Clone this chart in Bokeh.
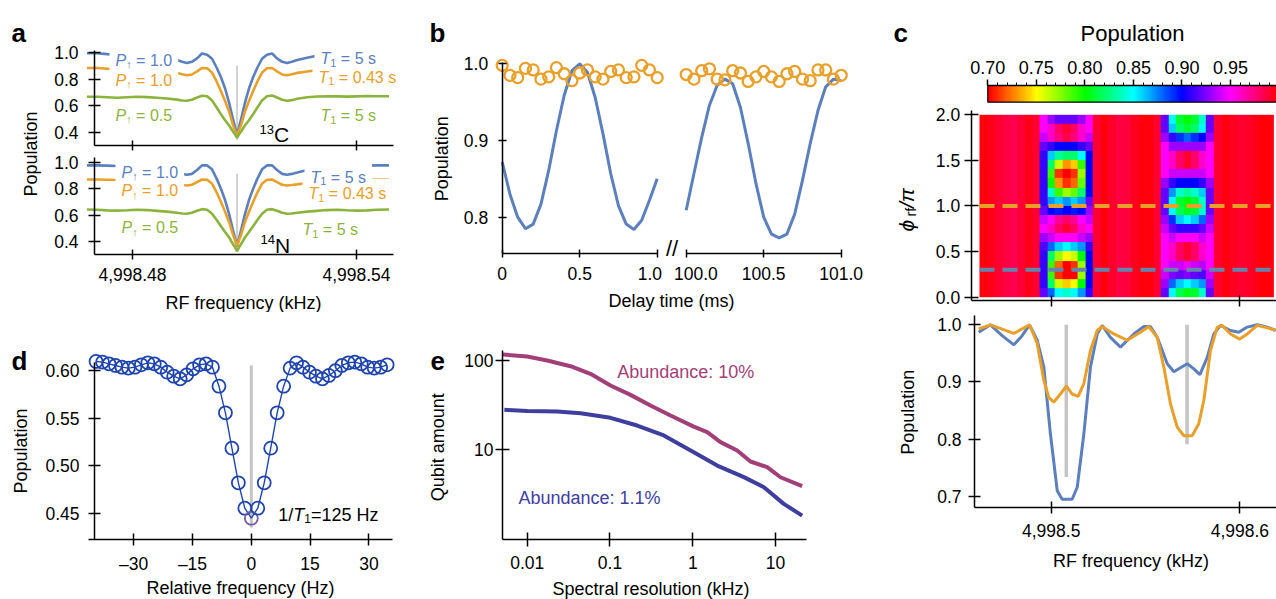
import math
import colorsys
import numpy as np
from bokeh.plotting import figure
from bokeh.layouts import row, column
from bokeh.models import (Range1d, FixedTicker, Label, LinearColorMapper, LinearAxis, BoxAnnotation,
                          CustomJSTickFormatter, NumeralTickFormatter, PrintfTickFormatter)
from bokeh.embed import file_html
from bokeh.resources import INLINE

# ======================= DATA =======================
# ---- panel a : RF spectra (kHz) ----
a_freq = [4998.4678, 4998.4705, 4998.4732, 4998.4759, 4998.4785, 4998.4812, 4998.4839, 4998.4866,
          4998.4892, 4998.4919, 4998.4933, 4998.4946, 4998.4959, 4998.4973, 4998.4986, 4998.5000,
          4998.5013, 4998.5026, 4998.5037, 4998.5048, 4998.5059, 4998.5069, 4998.5075, 4998.5080,
          4998.5085, 4998.5091, 4998.5101, 4998.5112, 4998.5123, 4998.5134, 4998.5147, 4998.5160,
          4998.5174, 4998.5187, 4998.5201, 4998.5214, 4998.5227, 4998.5241, 4998.5268, 4998.5294,
          4998.5321, 4998.5348, 4998.5375, 4998.5401, 4998.5428, 4998.5455, 4998.5487]
a13c_blue = [0.997, 0.997, 0.99, 0.985, 0.99, 0.995, 0.99, 0.978, 0.962, 0.945, 0.932, 0.922, 0.932,
             0.958, 0.995, 0.985, 0.955, 0.885, 0.815, 0.73, 0.62, 0.50, 0.435, 0.375,
             0.435, 0.50, 0.62, 0.73, 0.815, 0.885, 0.955, 0.985, 0.995, 0.958, 0.932, 0.922, 0.932,
             0.945, 0.962, 0.978, 0.99, 0.995, 0.99, 0.985, 0.99, 0.997, 0.997]
a13c_orange = [0.885, 0.885, 0.88, 0.875, 0.88, 0.885, 0.88, 0.87, 0.858, 0.848, 0.838, 0.83, 0.836,
               0.86, 0.885, 0.883, 0.85, 0.78, 0.71, 0.635, 0.555, 0.455, 0.41, 0.37,
               0.41, 0.455, 0.555, 0.635, 0.71, 0.78, 0.85, 0.883, 0.885, 0.86, 0.836, 0.83, 0.838,
               0.848, 0.858, 0.87, 0.88, 0.885, 0.88, 0.875, 0.88, 0.885, 0.885]
a13c_green = [0.668, 0.668, 0.664, 0.66, 0.664, 0.668, 0.665, 0.66, 0.655, 0.646, 0.64, 0.638, 0.645,
              0.662, 0.675, 0.672, 0.64, 0.585, 0.535, 0.49, 0.45, 0.405, 0.382, 0.358,
              0.382, 0.405, 0.45, 0.49, 0.535, 0.585, 0.64, 0.672, 0.677, 0.662, 0.645, 0.638, 0.642,
              0.652, 0.664, 0.67, 0.672, 0.671, 0.669, 0.671, 0.673, 0.672, 0.672]
a14n_blue = [0.98, 0.98, 0.978, 0.975, 0.975, 0.978, 0.975, 0.965, 0.945, 0.925, 0.915, 0.908, 0.915,
             0.945, 0.98, 0.98, 0.95, 0.875, 0.80, 0.715, 0.605, 0.485, 0.42, 0.36,
             0.42, 0.485, 0.605, 0.715, 0.80, 0.875, 0.95, 0.98, 0.98, 0.945, 0.915, 0.908, 0.915,
             0.925, 0.945, 0.965, 0.975, 0.978, 0.975, 0.975, 0.978, 0.98, 0.98]
a14n_orange = [0.872, 0.872, 0.87, 0.868, 0.87, 0.872, 0.868, 0.858, 0.845, 0.835, 0.83, 0.826, 0.832,
               0.852, 0.872, 0.87, 0.84, 0.77, 0.70, 0.625, 0.545, 0.45, 0.405, 0.365,
               0.405, 0.45, 0.545, 0.625, 0.70, 0.77, 0.84, 0.87, 0.872, 0.852, 0.832, 0.826, 0.83,
               0.835, 0.845, 0.858, 0.868, 0.872, 0.87, 0.868, 0.87, 0.872, 0.872]
a14n_green = [0.642, 0.64, 0.636, 0.634, 0.637, 0.641, 0.638, 0.632, 0.626, 0.617, 0.612, 0.61, 0.617,
              0.633, 0.645, 0.64, 0.61, 0.56, 0.515, 0.47, 0.428, 0.378, 0.35, 0.323,
              0.35, 0.378, 0.428, 0.47, 0.515, 0.56, 0.61, 0.64, 0.645, 0.633, 0.617, 0.61, 0.612,
              0.617, 0.626, 0.632, 0.638, 0.641, 0.637, 0.634, 0.636, 0.64, 0.642]
a_marker_freq = 4998.508
a13c_marker = (0.34, 0.904)
a14n_marker = (0.32, 0.916)
a_freq_ticks = [4998.48, 4998.54]
a_pop_ticks = [0.4, 0.6, 0.8, 1.0]

# ---- panel b : oscillations vs delay time (ms) ----
b_time_1 = [0.0, 0.05, 0.10, 0.15, 0.20, 0.25, 0.30, 0.35, 0.40, 0.45, 0.50, 0.55, 0.60, 0.65, 0.70,
            0.75, 0.80, 0.85, 0.90, 0.95, 1.00]
b_line_1 = [0.872, 0.830, 0.800, 0.785, 0.791, 0.817, 0.861, 0.913, 0.959, 0.991, 1.0, 0.989, 0.956,
            0.909, 0.857, 0.815, 0.791, 0.784, 0.796, 0.822, 0.850]
b_dots_1 = [0.998, 0.985, 0.982, 0.994, 0.992, 0.980, 0.983, 0.995, 0.987, 0.978, 0.988, 0.992, 0.983,
            0.980, 0.990, 0.992, 0.982, 0.983, 0.998, 0.992, 0.982]
b_time_2 = [100.0, 100.05, 100.10, 100.15, 100.20, 100.25, 100.30, 100.35, 100.40, 100.45, 100.50,
            100.55, 100.60, 100.65, 100.70, 100.75, 100.80, 100.85, 100.90, 100.95, 101.0]
b_line_2 = [0.809, 0.857, 0.904, 0.946, 0.972, 0.980, 0.974, 0.943, 0.896, 0.844, 0.800, 0.778, 0.773,
            0.778, 0.804, 0.848, 0.896, 0.939, 0.970, 0.980, 0.978]
b_dots_2 = [0.986, 0.980, 0.991, 0.9935, 0.980, 0.979, 0.991, 0.988, 0.977, 0.983, 0.990, 0.983, 0.977,
            0.987, 0.990, 0.980, 0.978, 0.992, 0.992, 0.980, 0.985]
b_time_ticks_1 = [0.0, 0.5, 1.0]
b_time_ticks_2 = [100.0, 100.5, 101.0]
b_pop_ticks = [0.8, 0.9, 1.0]

# ---- panel c : 2D map (rows: phi_rf/pi, columns: RF frequency) ----
heat_freq = [4998.464, 4998.468, 4998.472, 4998.476, 4998.480, 4998.484, 4998.488, 4998.492, 4998.496,
             4998.500, 4998.504, 4998.508, 4998.512, 4998.516, 4998.520, 4998.524, 4998.528, 4998.532,
             4998.536, 4998.540, 4998.544, 4998.548, 4998.552, 4998.556, 4998.560, 4998.564, 4998.568,
             4998.572, 4998.576, 4998.580, 4998.584, 4998.588, 4998.592, 4998.596, 4998.600, 4998.604,
             4998.608, 4998.612, 4998.616]
heat_phi = [0.05, 0.15, 0.25, 0.35, 0.45, 0.55, 0.65, 0.75, 0.85, 0.95,
            1.05, 1.15, 1.25, 1.35, 1.45, 1.55, 1.65, 1.75, 1.85, 1.95]
heat_background = [0.997, 0.995, 0.99, 0.986, 0.984, 0.989, 0.995,
                   0.997, 0.997, 0.997, 0.997, 0.997, 0.997, 0.997, 0.997, 0.997,
                   0.997, 0.991, 0.986, 0.988, 0.994, 0.997, 0.997,
                   0.997, 0.997, 0.997, 0.997, 0.997, 0.997, 0.997, 0.997, 0.997,
                   0.997, 0.994, 0.99, 0.991, 0.995, 0.998, 0.997]
heat_left_column = [   # columns 4998.492 ... 4998.524, rows from phi = 0.05 upward
    [0.99, 0.92, 0.88, 0.85, 0.84, 0.85, 0.87, 0.91, 0.99],
    [0.99, 0.91, 0.82, 0.76, 0.74, 0.75, 0.80, 0.90, 0.99],
    [0.99, 0.91, 0.79, 0.71, 0.70, 0.70, 0.77, 0.90, 0.99],
    [0.99, 0.91, 0.79, 0.72, 0.70, 0.71, 0.77, 0.90, 0.99],
    [0.99, 0.91, 0.82, 0.77, 0.75, 0.76, 0.80, 0.90, 0.99],
    [0.99, 0.915, 0.88, 0.86, 0.85, 0.86, 0.87, 0.91, 0.99],
    [0.99, 0.93, 0.94, 0.95, 0.95, 0.95, 0.94, 0.93, 0.99],
    [0.99, 0.95, 0.96, 0.98, 0.99, 0.98, 0.96, 0.95, 0.99],
    [0.99, 0.94, 0.95, 0.97, 0.98, 0.97, 0.95, 0.94, 0.99],
    [0.99, 0.92, 0.90, 0.895, 0.90, 0.895, 0.90, 0.93, 0.99],
    [0.99, 0.91, 0.87, 0.86, 0.87, 0.86, 0.87, 0.92, 0.99],
    [0.99, 0.91, 0.84, 0.79, 0.77, 0.78, 0.82, 0.90, 0.99],
    [0.99, 0.91, 0.80, 0.73, 0.71, 0.72, 0.78, 0.90, 0.99],
    [0.99, 0.91, 0.79, 0.71, 0.70, 0.71, 0.77, 0.90, 0.99],
    [0.99, 0.91, 0.82, 0.76, 0.73, 0.74, 0.79, 0.90, 0.99],
    [0.99, 0.91, 0.86, 0.83, 0.82, 0.82, 0.85, 0.90, 0.99],
    [0.99, 0.92, 0.91, 0.90, 0.90, 0.90, 0.91, 0.92, 0.99],
    [0.99, 0.94, 0.96, 0.975, 0.985, 0.975, 0.96, 0.94, 0.99],
    [0.99, 0.95, 0.96, 0.98, 0.99, 0.98, 0.96, 0.95, 0.99],
    [0.99, 0.95, 0.93, 0.92, 0.92, 0.92, 0.93, 0.95, 0.99],
]
heat_right_column = [  # columns 4998.556 ... 4998.588, rows from phi = 0.05 upward
    [0.99, 0.92, 0.85, 0.815, 0.805, 0.81, 0.84, 0.92, 0.99],
    [0.99, 0.93, 0.88, 0.86, 0.85, 0.86, 0.87, 0.93, 0.99],
    [0.99, 0.94, 0.925, 0.92, 0.925, 0.92, 0.915, 0.94, 0.99],
    [0.99, 0.95, 0.94, 0.94, 0.945, 0.94, 0.935, 0.95, 0.99],
    [0.99, 0.95, 0.96, 0.98, 0.99, 0.98, 0.96, 0.95, 0.99],
    [0.99, 0.95, 0.96, 0.98, 0.99, 0.98, 0.96, 0.95, 0.99],
    [0.99, 0.95, 0.94, 0.95, 0.95, 0.95, 0.94, 0.95, 0.99],
    [0.99, 0.94, 0.92, 0.91, 0.91, 0.91, 0.92, 0.94, 0.99],
    [0.99, 0.93, 0.89, 0.86, 0.85, 0.86, 0.88, 0.93, 0.99],
    [0.99, 0.92, 0.85, 0.815, 0.805, 0.81, 0.84, 0.92, 0.99],
    [0.99, 0.92, 0.85, 0.81, 0.80, 0.81, 0.84, 0.92, 0.99],
    [0.99, 0.92, 0.87, 0.84, 0.83, 0.84, 0.86, 0.92, 0.99],
    [0.99, 0.93, 0.91, 0.90, 0.90, 0.90, 0.91, 0.93, 0.99],
    [0.99, 0.95, 0.94, 0.94, 0.94, 0.94, 0.94, 0.95, 0.99],
    [0.99, 0.95, 0.96, 0.98, 0.99, 0.98, 0.96, 0.95, 0.99],
    [0.99, 0.95, 0.96, 0.98, 0.99, 0.98, 0.96, 0.95, 0.99],
    [0.99, 0.95, 0.93, 0.93, 0.93, 0.93, 0.93, 0.95, 0.99],
    [0.99, 0.93, 0.91, 0.89, 0.88, 0.89, 0.90, 0.93, 0.99],
    [0.99, 0.92, 0.86, 0.82, 0.81, 0.82, 0.85, 0.92, 0.99],
    [0.99, 0.92, 0.85, 0.81, 0.80, 0.81, 0.84, 0.92, 0.99],
]
heat_cut_phi = [0.3, 1.0]
heat_phi_ticks = [0.0, 0.5, 1.0, 1.5, 2.0]
colorbar_low, colorbar_high = 0.70, 1.0
colorbar_ticks = [0.70, 0.75, 0.80, 0.85, 0.90, 0.95]
colorbar_minor = [0.70, 0.71, 0.72, 0.73, 0.74, 0.75, 0.76, 0.77, 0.78, 0.79, 0.80, 0.81, 0.82, 0.83,
                  0.84, 0.85, 0.86, 0.87, 0.88, 0.89, 0.90, 0.91, 0.92, 0.93, 0.94, 0.95, 0.96, 0.97,
                  0.98, 0.99]

# ---- panel c (bottom) : cuts at phi = 0.3 pi (blue) and 1.0 pi (orange) ----
c_freq_blue = [4998.4616, 4998.4678, 4998.4740, 4998.4802, 4998.4846, 4998.4885, 4998.4926, 4998.4961,
               4998.4996, 4998.5032, 4998.5058, 4998.5111, 4998.5138, 4998.5173, 4998.5208, 4998.5244,
               4998.5270, 4998.5314, 4998.5367, 4998.5438, 4998.5491, 4998.5526, 4998.5562, 4998.5615,
               4998.5650, 4998.5685, 4998.5721, 4998.5756, 4998.5788, 4998.5827, 4998.5862, 4998.5897,
               4998.5950, 4998.5994, 4998.6039, 4998.6092, 4998.6145, 4998.6189]
c_pop_blue = [0.987, 1.0, 0.981, 0.965, 0.981, 1.0, 0.973, 0.926, 0.809, 0.710, 0.695, 0.695, 0.716,
              0.809, 0.926, 0.984, 0.999, 0.978, 0.961, 0.984, 0.997, 0.997, 0.978, 0.932, 0.918,
              0.925, 0.932, 0.923, 0.913, 0.943, 0.984, 0.999, 0.990, 0.987, 0.996, 1.0, 0.996, 0.990]
c_freq_orange = [4998.4616, 4998.4678, 4998.4802, 4998.4885, 4998.4926, 4998.4961, 4998.4987, 4998.5014,
                 4998.5049, 4998.5081, 4998.5111, 4998.5143, 4998.5173, 4998.5208, 4998.5244, 4998.5270,
                 4998.5332, 4998.5403, 4998.5473, 4998.5517, 4998.5562, 4998.5597, 4998.5632, 4998.5668,
                 4998.5703, 4998.5747, 4998.5782, 4998.5809, 4998.5844, 4998.5880, 4998.5906, 4998.5950,
                 4998.5999, 4998.6039, 4998.6092, 4998.6189]
c_pop_orange = [0.993, 1.0, 0.985, 1.0, 0.967, 0.903, 0.873, 0.865, 0.879, 0.893, 0.879, 0.875, 0.897,
                0.955, 0.990, 0.997, 0.984, 0.973, 0.987, 0.997, 0.978, 0.926, 0.862, 0.821, 0.806,
                0.806, 0.827, 0.868, 0.955, 0.996, 0.999, 0.984, 0.975, 0.984, 0.999, 0.991]
c_marker_freq = [4998.508, 4998.572]
c_marker_low = [0.734, 0.791]
c_marker_high = [1.0, 1.0]
c_freq_ticks = [4998.5, 4998.6]
c_pop_ticks = [0.7, 0.8, 0.9, 1.0]

# ---- panel d ----
d_freq = [-39.6, -37.95, -36.3, -34.65, -33.0, -31.35, -29.7, -28.05, -26.4, -24.75, -23.1, -21.45,
          -19.8, -18.15, -16.5, -14.85, -13.2, -11.55, -9.9, -8.25, -6.6, -4.95, -3.3, -1.65, 0.0,
          1.65, 3.3, 4.95, 6.6, 8.25, 9.9, 11.55, 13.2, 14.85, 16.5, 18.15, 19.8, 21.45, 23.1, 24.75,
          26.4, 28.05, 29.7, 31.35, 33.0, 34.65]
d_pop = [0.6095, 0.6088, 0.6070, 0.6053, 0.6035, 0.6025, 0.6035, 0.6060, 0.6081, 0.6070, 0.6035, 0.5982,
         0.5940, 0.5912, 0.5954, 0.6018, 0.6060, 0.6070, 0.6035, 0.5835, 0.5555, 0.5183, 0.4819, 0.4552,
         0.4447, 0.4552, 0.4819, 0.5183, 0.5555, 0.5835, 0.6025, 0.6081, 0.6035, 0.5982, 0.5940, 0.5912,
         0.5948, 0.5998, 0.6053, 0.6081, 0.6088, 0.6070, 0.6035, 0.6025, 0.6035, 0.6060]
d_marker = (0.0, 0.435, 0.6053)
d_freq_ticks = [-30, -15, 0, 15, 30]
d_pop_ticks = [0.45, 0.50, 0.55, 0.60]

# ---- panel e ----
e10_res = [0.0051, 0.01, 0.01746, 0.03334, 0.05808, 0.1014, 0.177, 0.3083, 0.5383, 1.028, 1.493,
           2.163, 3.436, 4.977, 7.925, 11.46, 20.94]
e10_qubits = [116.8, 110.9, 100.0, 86.3, 70.8, 52.3, 41.1, 31.2, 24.1, 18.1, 15.7, 12.1, 9.75, 7.33,
              6.33, 4.88, 3.87]
e11_res = [0.0053, 0.01, 0.02301, 0.04406, 0.1014, 0.2128, 0.4467, 1.028, 1.972, 4.14, 7.228, 12.56,
           20.94]
e11_qubits = [27.9, 27.0, 26.7, 25.6, 22.7, 18.6, 14.4, 9.33, 6.6, 4.89, 3.77, 2.45, 1.81]
e_res_ticks = [0.01, 0.1, 1, 10]
e_qubit_ticks = [10, 100]

# ======================= STYLE =======================
FONT = "Liberation Sans"
TICK_FS = "17.5px"
BLUE = "#5b80bd"
ORANGE = "#e8a02a"
GREEN = "#8cb43c"
DBLUE = "#1f45ad"
DPURPLE = "#7a5ca8"
E_PURPLE = "#a23f79"
E_BLUE = "#3e3e9f"
DASH_BLUE = "#6584ad"
GRAY = "#c4c4c4"
NB = "\u00a0"

W = {' ': 0.278, '=': 0.584, '.': 0.278, 's': 0.5, 'P': 0.667, 'T': 0.611, '\u2191': 0.5,
     '/': 0.278, 'H': 0.722, 'z': 0.5, 'C': 0.722, 'N': 0.722, 'r': 0.333, 'f': 0.278,
     '\u03d5': 0.62, '\u03c0': 0.556}


def tw(s, fs):
    return sum(W.get(ch, 0.556) for ch in s) * fs


PENDING = []


def queue(p, lab):
    for entry in PENDING:
        if entry[0] is p:
            entry[1].append(lab)
            return
    PENDING.append((p, [lab]))


def mk(geom, sx, sy, text, size, color="black", style="normal", align="left",
       baseline="alphabetic", angle=0.0):
    x0, y1 = geom
    return Label(x=sx - x0, y=y1 - sy, x_units="screen", y_units="screen", text=text,
                 text_font=FONT, text_font_size=f"{size}px", text_color=color,
                 text_font_style=style, text_align=align, text_baseline=baseline, angle=angle)


def txt(p, geom, sx, sy, text, size, **kw):
    queue(p, mk(geom, sx, sy, text, size, **kw))


def white_box(p, geom, left, right, top, bottom):
    x0, y1 = geom
    p.add_layout(BoxAnnotation(left=left - x0, right=right - x0, top=y1 - top, bottom=y1 - bottom,
                               left_units="screen", right_units="screen", top_units="screen",
                               bottom_units="screen", fill_color="white", fill_alpha=1.0,
                               line_color=None))


def comp(p, geom, left, base, parts, color, bg=False, rext=0.0):
    x = left
    for t, st, fs, dy in parts:
        lead = len(t) - len(t.lstrip(' '))
        x += tw(' ' * lead, fs)
        t2 = t.lstrip(' ')
        queue(p, mk(geom, x, base + dy, t2, fs, color, st))
        x += tw(t2, fs)
    if bg:
        white_box(p, geom, left - 6, max(x + 6, rext), base - 15, base + 5)


def make_fig(w, h, xr, yr, xtype="linear", ytype="linear", xloc="below", yloc="left"):
    p = figure(width=w, height=h, x_range=Range1d(*xr), y_range=Range1d(*yr),
               x_axis_type=xtype, y_axis_type=ytype, x_axis_location=xloc, y_axis_location=yloc,
               toolbar_location=None, output_backend="svg", tools="", min_border=0)
    p.outline_line_color = None
    p.background_fill_color = "white"
    p.border_fill_color = "white"
    for g in p.grid:
        g.visible = False
    return p


def cfg(ax, loc, bounds, ticks, formatter, tin=5, tout=5, standoff=8, fs=TICK_FS):
    ax.axis_line_color = "black"
    ax.axis_line_width = 1.5
    ax.major_tick_line_color = "black"
    ax.major_tick_line_width = 1.5
    ax.major_tick_in = tin
    ax.major_tick_out = tout
    ax.minor_tick_in = 0
    ax.minor_tick_out = 0
    ax.major_label_text_font = FONT
    ax.major_label_text_font_size = fs
    ax.major_label_text_color = "black"
    ax.major_label_standoff = standoff
    ax.axis_label = None
    ax.fixed_location = loc
    ax.bounds = bounds
    ax.ticker = FixedTicker(ticks=ticks)
    ax.formatter = formatter


EMPTY = CustomJSTickFormatter(code="return '';")

# ======================= PANEL a  (page box x 0..428, y 0..312) =======================
G_A = (0, 312)
a = make_fig(428, 312, (4998.444643, 4998.559286), (-0.96297, 1.39531))
a.extra_y_ranges = {"n14": Range1d(-0.14626, 2.24273)}
for (mkr, rng) in ((a13c_marker, "default"), (a14n_marker, "n14")):
    a.segment(x0=[a_marker_freq], y0=[mkr[0]], x1=[a_marker_freq], y1=[mkr[1]],
              line_color=GRAY, line_width=1.5, y_range_name=rng)
for blue, orange, green, rng in ((a13c_blue, a13c_orange, a13c_green, "default"),
                                 (a14n_blue, a14n_orange, a14n_green, "n14")):
    a.line(a_freq, blue, line_color=BLUE, line_width=2.6, y_range_name=rng)
    a.line(a_freq, orange, line_color=ORANGE, line_width=2.6, y_range_name=rng)
    a.line(a_freq, green, line_color=GREEN, line_width=2.6, y_range_name=rng)
ax = a.xaxis[0]
ax.y_range_name = "n14"
cfg(ax, 0.2979, (4998.46982, 4998.54991), a_freq_ticks, NumeralTickFormatter(format="0,0.00"), 5, 5, 9)
ax = LinearAxis()
a.add_layout(ax, "below")
cfg(ax, 0.2993, (4998.46982, 4998.54991), a_freq_ticks, EMPTY, 5, 5, 0)
cfg(a.yaxis[0], 4998.46982, (0.2993, 1.0174), a_pop_ticks, PrintfTickFormatter(format="%.1f"), 6, 6, 10)
ax = LinearAxis(y_range_name="n14")
a.add_layout(ax, "left")
cfg(ax, 4998.46982, (0.2979, 1.0406), a_pop_ticks, PrintfTickFormatter(format="%.1f"), 6, 6, 10)

txt(a, G_A, 11, 32, "a", 26, style="bold")
txt(a, G_A, 30, 153.5, "Population", 18, align="center", baseline="middle", angle=math.pi / 2)
txt(a, G_A, 243, 302, "RF frequency (kHz)", 18, align="center", baseline="middle")
PUP = lambda v: [("P", "italic", 16, 0), ("\u2191", "normal", 11, 4), (" = " + v, "normal", 16, 0)]
T1 = lambda v: [("T", "italic", 16, 0), ("1", "normal", 11, 4), (" = " + v, "normal", 16, 0)]
comp(a, G_A, 115, 59.5, PUP("1.0"), BLUE, bg=True)
comp(a, G_A, 115, 79.5, PUP("1.0"), ORANGE, bg=True)
comp(a, G_A, 115, 114.5, PUP("0.5"), GREEN)
comp(a, G_A, 320, 58.3, T1("5 s"), BLUE, bg=True, rext=395)
comp(a, G_A, 318, 76.7, T1("0.43 s"), ORANGE, bg=True, rext=395)
comp(a, G_A, 320, 115, T1("5 s"), GREEN)
comp(a, G_A, 259, 128.5, [("13", "normal", 13, 0), ("C", "normal", 21, 5.5)], "black")
comp(a, G_A, 121, 171.7, PUP("1.0"), BLUE, bg=True)
comp(a, G_A, 121, 190, PUP("1.0"), ORANGE, bg=True)
comp(a, G_A, 121, 227.3, PUP("0.5"), GREEN)
comp(a, G_A, 310, 176.7, T1("5 s"), BLUE, bg=True)
comp(a, G_A, 308, 193.3, T1("0.43 s"), ORANGE, bg=True)
comp(a, G_A, 302, 229, T1("5 s"), GREEN)
comp(a, G_A, 260, 238.5, [("14", "normal", 13, 0), ("N", "normal", 21, 6.5)], "black")

# ======================= PANEL d  (page box x 0..428, y 312..599) =======================
G_D = (0, 599)
d = make_fig(428, 287, (-63.980, 45.204), (0.35920, 0.66099))
d.segment(x0=[d_marker[0]], y0=[d_marker[1]], x1=[d_marker[0]], y1=[d_marker[2]],
          line_color=GRAY, line_width=3)
d.line(d_freq, d_pop, line_color=DBLUE, line_width=1.4)
d_colors = [DPURPLE if f == 0.0 else DBLUE for f in d_freq]
d.scatter(d_freq, d_pop, marker="circle", size=13, fill_color=None, line_color=d_colors, line_width=1.8)
cfg(d.xaxis[0], 0.4223, (-41.53, 36.02), d_freq_ticks,
    CustomJSTickFormatter(code="return tick < 0 ? '\u2013' + (-tick) : String(tick);"), 6, 6, 9)
cfg(d.yaxis[0], -40.0, (0.4223, 0.6087), d_pop_ticks, PrintfTickFormatter(format="%.2f"), 6, 6, 9)
txt(d, G_D, 11, 360, "d", 26, style="bold")
txt(d, G_D, 20.5, 450.5, "Population", 18, align="center", baseline="middle", angle=math.pi / 2)
txt(d, G_D, 240, 587, "Relative frequency (Hz)", 18, align="center", baseline="middle")
comp(d, G_D, 277.7, 514.3, [("1/", "normal", 18, 0), ("T", "italic", 18, 0), ("1", "normal", 12, 4),
                             ("=125 Hz", "normal", 18, 0)], "black")

# ======================= PANEL b  (page box x 428..880, y 0..312) =======================
G_B = (428, 312)
b = make_fig(452, 312, (-0.47548, 2.44065), (0.67575, 1.08253))
b.extra_x_ranges = {"late": Range1d(98.33742, 101.25355)}
b.line(b_time_1, b_line_1, line_color=BLUE, line_width=3)
b.line(b_time_2, b_line_2, line_color=BLUE, line_width=3, x_range_name="late")
b.scatter(b_time_1, b_dots_1, marker="circle", size=11, fill_color=None, line_color=ORANGE, line_width=2.3)
b.scatter(b_time_2, b_dots_2, marker="circle", size=11, fill_color=None, line_color=ORANGE,
          line_width=2.3, x_range_name="late")
cfg(b.xaxis[0], 0.7527, (0.0, 1.0), b_time_ticks_1, CustomJSTickFormatter(
    code="return tick == 0 ? '0' : (Math.abs(tick - 1) < 1e-9 ? '1.0" + NB * 3 + "' : tick.toFixed(1));"),
    4, 4, 7)
ax = LinearAxis(x_range_name="late")
b.add_layout(ax, "below")
cfg(ax, 0.7527, (100.0, 101.0), b_time_ticks_2, CustomJSTickFormatter(
    code="return Math.abs(tick - 100) < 1e-9 ? '" + NB * 4 + "100.0' : tick.toFixed(1);"), 4, 4, 7)
cfg(b.yaxis[0], 0.0, (0.7527, 1.0017), b_pop_ticks, PrintfTickFormatter(format="%.1f"), 4, 4, 10)
txt(b, G_B, 429, 32, "b", 26, style="bold")
txt(b, G_B, 441.7, 158.3, "Population", 18, align="center", baseline="middle", angle=math.pi / 2)
txt(b, G_B, 671, 300, "Delay time (ms)", 18, align="center", baseline="middle")
txt(b, G_B, 671.5, 248, "//", 22, align="center", baseline="middle")

# ======================= PANEL e  (page box x 428..880, y 312..599) =======================
G_E = (428, 599)
e = make_fig(452, 287, (0.00064269, 184.93), (0.20637, 346.24), xtype="log", ytype="log")
e.line(e10_res, e10_qubits, line_color=E_PURPLE, line_width=4)
e.line(e11_res, e11_qubits, line_color=E_BLUE, line_width=4)
STR = CustomJSTickFormatter(code="return String(tick);")
cfg(e.xaxis[0], 0.9745, (0.00503, 23.68), e_res_ticks, STR, 7, 7, 9)
cfg(e.yaxis[0], 0.00503, (0.9745, 129.5), e_qubit_ticks, STR, 7, 7, 2)
txt(e, G_E, 430, 360, "e", 26, style="bold")
txt(e, G_E, 437.5, 446.7, "Qubit amount", 18, align="center", baseline="middle", angle=math.pi / 2)
txt(e, G_E, 650.5, 588, "Spectral resolution (kHz)", 18, align="center", baseline="middle")
e.add_layout(Label(x=0.1222, y=73.9, text="Abundance: 10%", text_font=FONT, text_font_size="18px",
                   text_color=E_PURPLE, text_baseline="middle"))
e.add_layout(Label(x=0.00785, y=2.836, text="Abundance: 1.1%", text_font=FONT, text_font_size="18px",
                   text_color=E_BLUE, text_baseline="middle"))

# ======================= PANEL c =======================
hsv_palette = []
for i in range(256):
    r, g, bb = colorsys.hsv_to_rgb(i / 255.0, 1.0, 1.0)
    hsv_palette.append("#%02x%02x%02x" % (int(round(r * 255)), int(round(g * 255)), int(round(bb * 255))))
mapper = LinearColorMapper(palette=hsv_palette, low=colorbar_low, high=colorbar_high)

# colour bar (page box x 880..1276, y 0..106)
G_CB = (880, 106)
cbar = make_fig(396, 106, (0.58947, 0.99738), (-0.2575, 6.0898), xloc="above", yloc=None)
colorbar_levels = np.linspace(colorbar_low, colorbar_high, 301)
cbar.image(image=[np.array([colorbar_levels])], x=colorbar_low, y=0, dw=colorbar_high - colorbar_low,
           dh=1, color_mapper=mapper)
cbar.quad(left=[colorbar_low], right=[colorbar_high], bottom=[0], top=[1], fill_color=None,
          line_color="black", line_width=1.2)
ax = cbar.xaxis[0]
cfg(ax, 1.0, (colorbar_low, colorbar_high), colorbar_ticks, PrintfTickFormatter(format="%.2f"),
    0, 6, 5, fs="18px")
ax.ticker = FixedTicker(ticks=colorbar_ticks, minor_ticks=colorbar_minor)
ax.minor_tick_out = 3
ax.minor_tick_line_color = "black"
ax.minor_tick_line_width = 1
txt(cbar, G_CB, 893, 32, "c", 26, style="bold")
txt(cbar, G_CB, 1132, 33.3, "Population", 22, align="center", baseline="middle")

# map (page box x 880..1276, y 106..309)
G_CH = (880, 309)
heat = make_fig(396, 203, (4998.40954, 4998.61940), (-0.13489, 2.09101))
heat_rows = []
for r_i in range(len(heat_phi)):
    row_vals = list(heat_background)
    row_vals[7:16] = heat_left_column[r_i]
    row_vals[23:32] = heat_right_column[r_i]
    heat_rows.append(row_vals)
heat_grid = np.array(heat_rows)
step = heat_freq[1] - heat_freq[0]
heat_x0 = heat_freq[0] - step / 2
heat_x1 = heat_freq[-1] + step / 2
heat.image(image=[heat_grid], x=heat_x0, y=0, dw=heat_x1 - heat_x0, dh=2.0, color_mapper=mapper)
heat.segment(x0=[heat_x0, heat_x0], y0=heat_cut_phi, x1=[heat_x1, heat_x1], y1=heat_cut_phi,
             line_color=[DASH_BLUE, ORANGE], line_width=4, line_dash="15 8")
cfg(heat.xaxis[0], -0.036, (4998.4576, 4998.6194), c_freq_ticks, EMPTY, 5, 6, 0)
cfg(heat.yaxis[0], 4998.4576, (-0.036, 2.047), heat_phi_ticks, PrintfTickFormatter(format="%.1f"), 7, 7, 4)
queue(heat, mk(G_CH, 906, 231, "\u03d5", 21, style="italic", baseline="middle", angle=math.pi / 2))
queue(heat, mk(G_CH, 910, 216, "rf", 14, baseline="middle", angle=math.pi / 2))
queue(heat, mk(G_CH, 906, 207.5, "/\u03c0", 21, style="italic", baseline="middle", angle=math.pi / 2))

# cuts (page box x 880..1276, y 309..599)
G_CL = (880, 599)
cl = make_fig(396, 290, (4998.40954, 4998.61940), (0.51974, 1.02675))
cl.segment(x0=c_marker_freq, y0=c_marker_low, x1=c_marker_freq, y1=c_marker_high,
           line_color=GRAY, line_width=3.5)
cl.line(c_freq_blue, c_pop_blue, line_color=BLUE, line_width=3)
cl.line(c_freq_orange, c_pop_orange, line_color=ORANGE, line_width=3)
cfg(cl.xaxis[0], 0.6800, (4998.4594, 4998.6194), c_freq_ticks, NumeralTickFormatter(format="0,0.0"), 6, 6, 10)
cfg(cl.yaxis[0], 4998.4594, (0.6800, 1.0163), c_pop_ticks, PrintfTickFormatter(format="%.1f"), 6, 6, 7)
txt(cl, G_CL, 907.5, 411.7, "Population", 18, align="center", baseline="middle", angle=math.pi / 2)
txt(cl, G_CL, 1130.5, 560, "RF frequency (kHz)", 18, align="center", baseline="middle")

# ---- add queued text labels (after the white label boxes) ----
for p, labs in PENDING:
    for lab in labs:
        p.add_layout(lab)

layout = row(column(a, d), column(b, e), column(cbar, heat, cl))
open("out.html", "w").write(file_html(layout, INLINE))
